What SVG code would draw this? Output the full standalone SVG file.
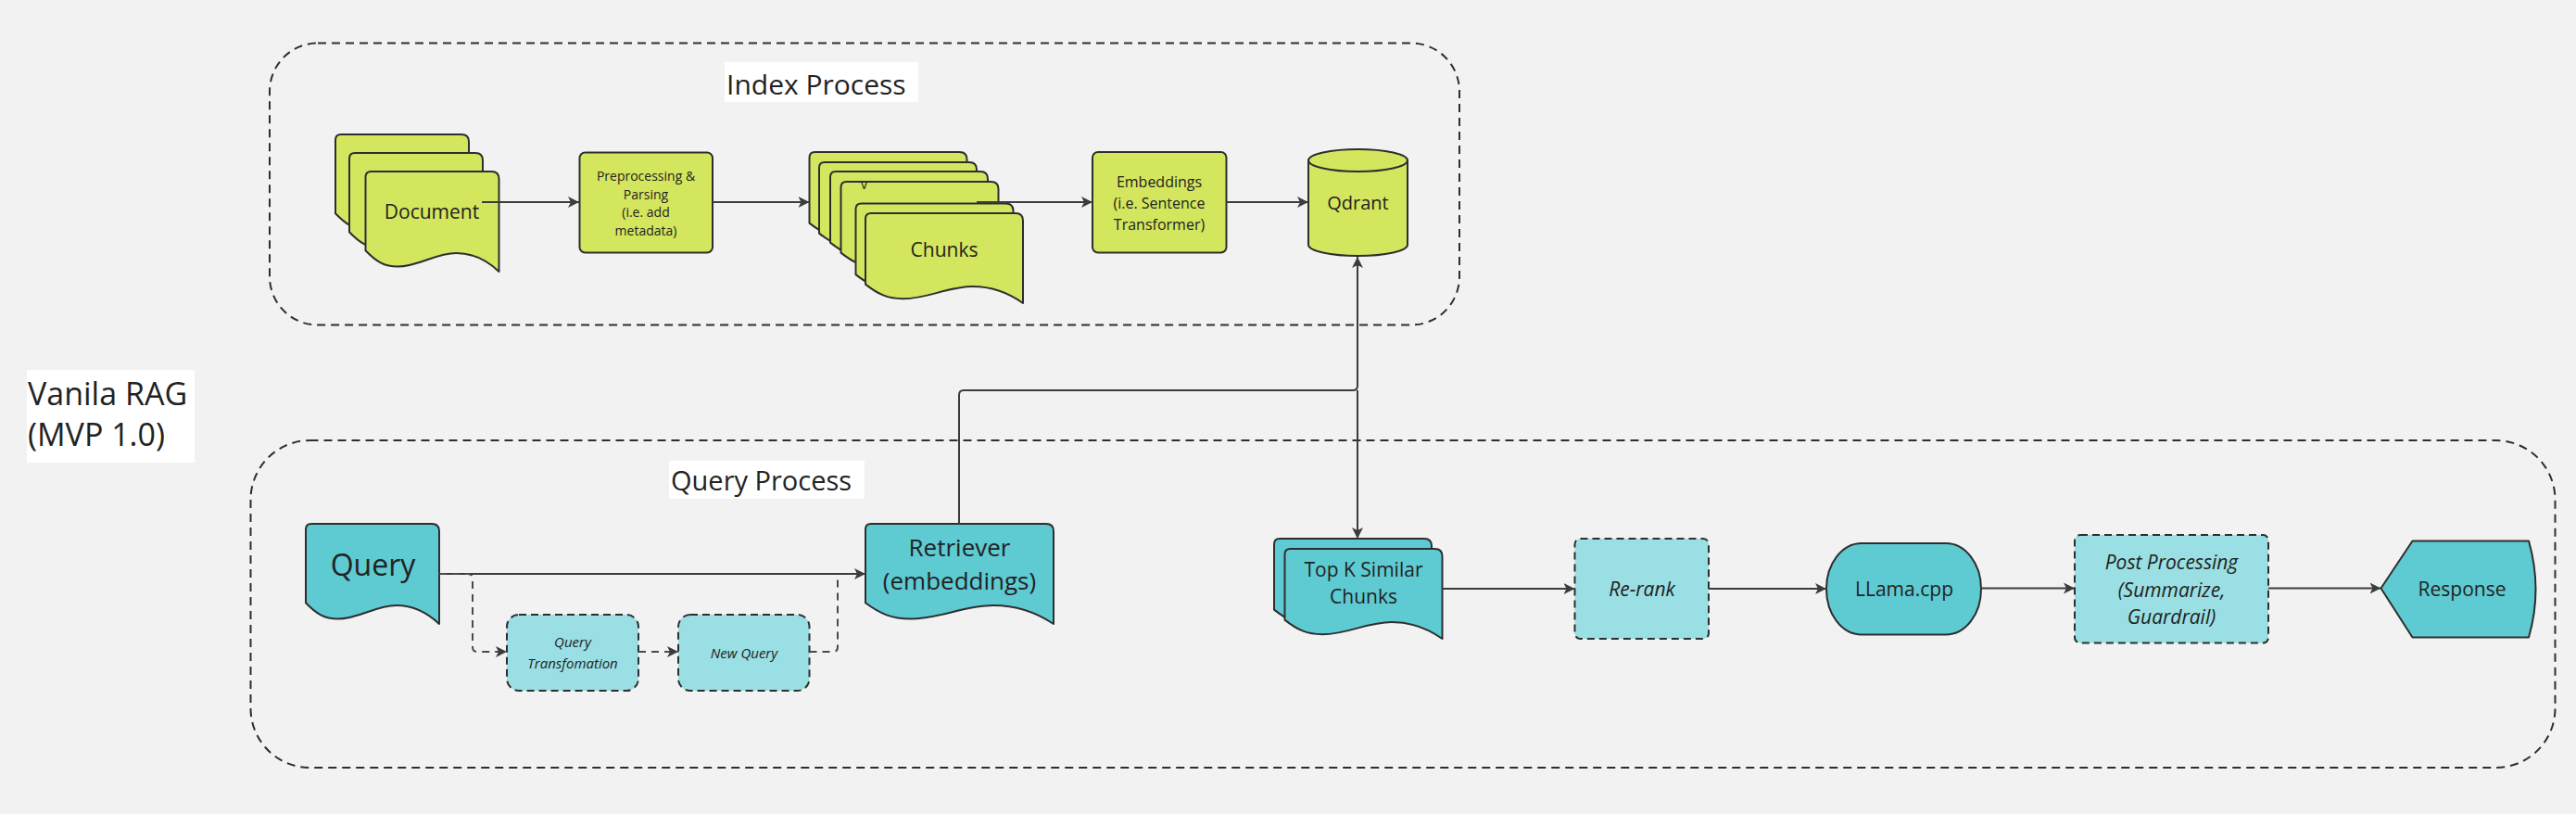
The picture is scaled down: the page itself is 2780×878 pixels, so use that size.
<svg xmlns="http://www.w3.org/2000/svg" xmlns:xlink="http://www.w3.org/1999/xlink" width="2780" height="878" viewBox="0 0 2780 878">
<style>
  text { font-family: "Open Sans", "Noto Sans", "Liberation Sans", sans-serif; fill: #222; }
  .c { text-anchor: middle; }
  .it { font-style: italic; }
  .green { fill: #D4E65E; stroke: #2e2e2e; stroke-width: 2; stroke-linejoin: round; }
  .teal { fill: #5ECAD2; stroke: #2e2e2e; stroke-width: 2; stroke-linejoin: round; }
  .lteal { fill: #99DFE3; stroke: #2e2e2e; stroke-width: 2; stroke-dasharray: 8 5; }
  .group { fill: none; stroke: #2e2e2e; stroke-width: 2; stroke-dasharray: 9 6; }
  .conn { fill: none; stroke: #3c3c3c; stroke-width: 2; }
  .dconn { fill: none; stroke: #4a4a4a; stroke-width: 2; stroke-dasharray: 8 6; }
  .lbl { fill: #ffffff; }
</style>
<defs>
  <marker id="arr" markerUnits="userSpaceOnUse" markerWidth="13" markerHeight="13" refX="12" refY="6.5" orient="auto">
    <path d="M0,0.5 L12,6.5 L0,12.5 L3,6.5 Z" fill="#3c3c3c"/>
  </marker>
  <path id="docA" d="M0,6 Q0,0 6,0 H136 Q144,0 144,8 V108 C132.5,97.2 118.1,88 97.9,88 C74.9,88 57.6,102.6 34.6,102.6 C20.2,102.6 11.5,97.2 0,85.3 Z"/>
  <path id="docB" d="M0,6 Q0,0 6,0 H162 Q170,0 170,8 V97 C156.4,87.3 139.4,79 115.6,79 C88.4,79 68,92.2 40.8,92.2 C23.8,92.2 13.6,87.3 0,76.6 Z"/>
  <path id="docC" d="M0,6 Q0,0 6,0 H195 Q203,0 203,8 V108 C186.8,97.2 166.5,88 138,88 C105.6,88 81.2,102.6 48.7,102.6 C28.4,102.6 16.2,97.2 0,85.3 Z"/>
</defs>
<rect width="2780" height="878" fill="#F2F2F2"/>

<g id="index-process">
  <rect class="group" x="291" y="46.5" width="1284" height="304" rx="52"/>
  <rect class="lbl" x="782" y="67" width="209" height="43"/>
  <text x="784" y="101.5" font-size="30">Index Process</text>
</g>
<g id="query-process">
  <rect class="group" x="270.5" y="475" width="2487" height="353" rx="64"/>
  <rect class="lbl" x="722" y="497" width="211" height="41"/>
  <text x="724" y="529" font-size="29">Query Process</text>
</g>
<g id="title">
  <rect class="lbl" x="29" y="399" width="181" height="100"/>
  <text x="30" y="437" font-size="34">Vanila RAG</text>
  <text x="30" y="481" font-size="34">(MVP 1.0)</text>
</g>

<g id="document">
  <use href="#docA" class="green" x="362" y="145"/>
  <use href="#docA" class="green" x="377" y="165"/>
  <use href="#docA" class="green" x="394.5" y="185"/>
  <text class="c" x="466" y="236" font-size="21">Document</text>
</g>
<g id="preprocessing">
  <rect class="green" x="625.5" y="164.5" width="143.5" height="108" rx="6"/>
  <text class="c" x="697" y="195" font-size="14">Preprocessing &amp;</text>
  <text class="c" x="697" y="214.5" font-size="14">Parsing</text>
  <text class="c" x="697" y="234" font-size="14">(i.e. add</text>
  <text class="c" x="697" y="253.5" font-size="14">metadata)</text>
</g>
<g id="chunks">
  <use href="#docB" class="green" x="873.5" y="164"/>
  <use href="#docB" class="green" x="884" y="175"/>
  <use href="#docB" class="green" x="896" y="185"/>
  <use href="#docB" class="green" x="907.5" y="196"/>
  <text class="c" x="932.5" y="204" font-size="14">v</text>
  <use href="#docB" class="green" x="923.5" y="219.5"/>
  <use href="#docB" class="green" x="934" y="230"/>
  <text class="c" x="1019" y="277" font-size="21">Chunks</text>
</g>
<g id="embeddings">
  <rect class="green" x="1179" y="164" width="144.5" height="108.5" rx="6"/>
  <text class="c" x="1251" y="202" font-size="16">Embeddings</text>
  <text class="c" x="1251" y="225" font-size="16">(i.e. Sentence</text>
  <text class="c" x="1251" y="247.5" font-size="16">Transformer)</text>
</g>
<g id="qdrant">
  <path class="green" d="M1412,173 A53.5,12 0 0,1 1519,173 V264 A53.5,12 0 0,1 1412,264 Z"/>
  <path class="green" fill="none" d="M1412,173 A53.5,12 0 0,0 1519,173"/>
  <text class="c" x="1465.5" y="226" font-size="20">Qdrant</text>
</g>

<g id="query">
  <use href="#docA" class="teal" x="330" y="565"/>
  <text class="c" x="402.5" y="621" font-size="32">Query</text>
</g>
<g id="query-transformation">
  <rect class="lteal" x="547" y="663" width="142" height="82" rx="13"/>
  <text class="c it" x="618" y="698" font-size="15">Query</text>
  <text class="c it" x="618" y="721" font-size="15">Transfomation</text>
</g>
<g id="new-query">
  <rect class="lteal" x="732" y="663" width="141.5" height="82" rx="13"/>
  <text class="c it" x="803" y="710" font-size="15">New Query</text>
</g>
<g id="retriever">
  <use href="#docC" class="teal" x="934" y="565"/>
  <text class="c" x="1035.5" y="599.5" font-size="26">Retriever</text>
  <text class="c" x="1035.5" y="636" font-size="26">(embeddings)</text>
</g>
<g id="top-k">
  <use href="#docB" class="teal" x="1375" y="581"/>
  <use href="#docB" class="teal" x="1386.5" y="592"/>
  <text class="c" x="1471.5" y="621.5" font-size="21">Top K Similar</text>
  <text class="c" x="1471.5" y="651" font-size="21">Chunks</text>
</g>
<g id="re-rank">
  <rect class="lteal" x="1699.5" y="581" width="144.5" height="108" rx="6"/>
  <text class="c it" x="1772" y="642.5" font-size="21">Re-rank</text>
</g>
<g id="llama">
  <rect class="teal" x="1971" y="586" width="167" height="98.5" rx="38" ry="49"/>
  <text class="c" x="2055" y="642.5" font-size="21">LLama.cpp</text>
</g>
<g id="post-processing">
  <rect class="lteal" x="2239" y="577" width="209" height="116.5" rx="6"/>
  <text class="c it" x="2343.5" y="614" font-size="21">Post Processing</text>
  <text class="c it" x="2343.5" y="643.5" font-size="21">(Summarize,</text>
  <text class="c it" x="2343.5" y="673" font-size="21">Guardrail)</text>
</g>
<g id="response">
  <path class="teal" d="M2569.5,634.5 L2603.5,583.5 H2729 Q2744,635.5 2729,687.5 H2603.5 Z"/>
  <text class="c" x="2657" y="642.5" font-size="21">Response</text>
</g>

<g id="connectors">
  <path class="conn" d="M520,218 H625" marker-end="url(#arr)"/>
  <path class="conn" d="M769,218 H873.5" marker-end="url(#arr)"/>
  <path class="conn" d="M1054,218 H1179" marker-end="url(#arr)"/>
  <path class="conn" d="M1323.5,218 H1412" marker-end="url(#arr)"/>
  <path class="conn" d="M1035,565 V426 Q1035,421 1040,421 H1460 Q1465,421 1465,416 V277" marker-end="url(#arr)"/>
  <path class="conn" d="M1465,421 V581" marker-end="url(#arr)"/>
  <path class="conn" d="M474,619 H934" marker-end="url(#arr)"/>
  <path class="dconn" d="M474,619 H505 Q510,619 510,624 V698 Q510,703 515,703 H547" marker-end="url(#arr)"/>
  <path class="dconn" d="M689,703 H732" marker-end="url(#arr)"/>
  <path class="dconn" d="M873.5,703 H899 Q904,703 904,698 V620"/>
  <path class="conn" d="M1556,635 H1699.5" marker-end="url(#arr)"/>
  <path class="conn" d="M1844,635 H1971" marker-end="url(#arr)"/>
  <path class="conn" d="M2138,634.5 H2239" marker-end="url(#arr)"/>
  <path class="conn" d="M2448,634.5 H2569.5" marker-end="url(#arr)"/>
</g>
</svg>
